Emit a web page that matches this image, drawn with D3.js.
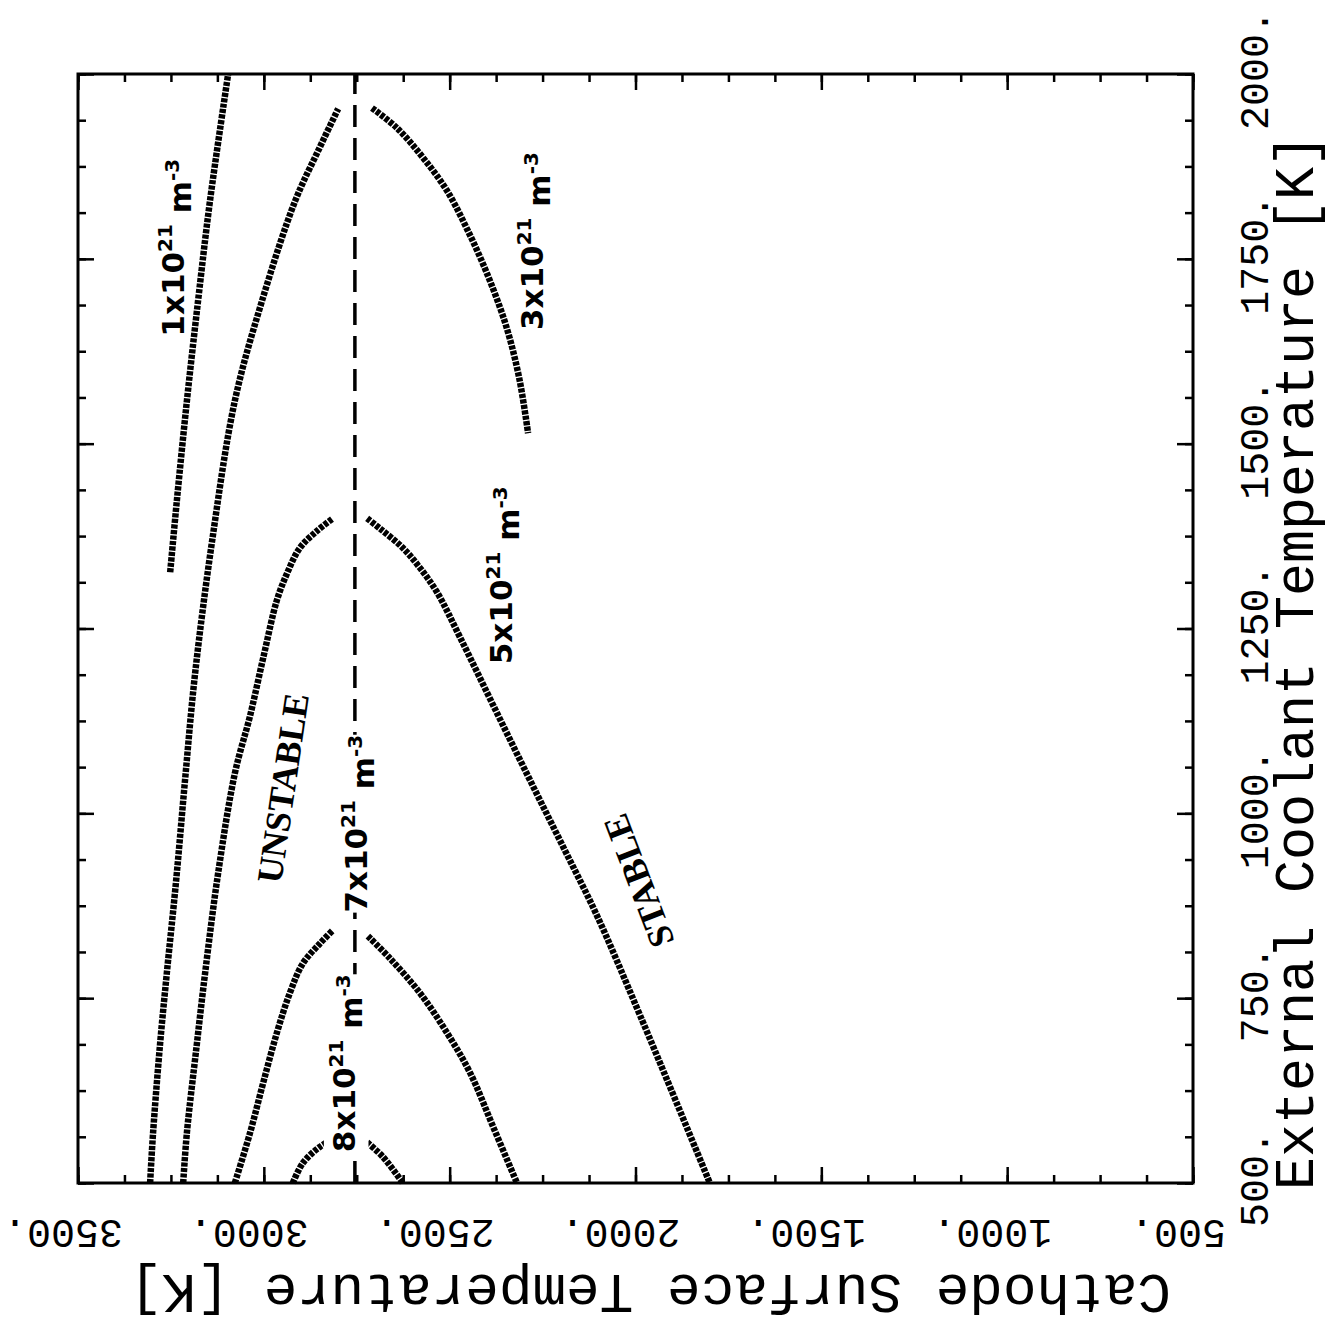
<!DOCTYPE html>
<html>
<head>
<meta charset="utf-8">
<script src="https://cdn.jsdelivr.net/npm/d3@7"></script>
<style>
  body { margin: 0; background: #fff; }
  svg { display: block; }
</style>
</head>
<body>
<script>
// axis ticks
var coolantTicks = [500, 750, 1000, 1250, 1500, 1750, 2000];
var cathodeTicks = [500, 1000, 1500, 2000, 2500, 3000, 3500];

// curves, each point is [coolant K, cathode K]
var n1e21Unstable = [[1326, 3252], [1423, 3234], [1558, 3207], [1693, 3177], [1828, 3145], [2000, 3096]];
var n3e21Unstable = [[500, 3306], [568, 3298], [689, 3279], [784, 3261], [909, 3236], [1045, 3212],
    [1189, 3185], [1369, 3139], [1558, 3078], [1693, 3005], [1828, 2916], [1896, 2854], [1953, 2800]];
var n3e21Stable = [[1954, 2709], [1927, 2642], [1887, 2572], [1842, 2507], [1788, 2451], [1727, 2397],
    [1659, 2348], [1589, 2313], [1514, 2289]];
var n5e21Unstable = [[500, 3217], [568, 3207], [689, 3180], [784, 3158], [919, 3123], [1054, 3078],
    [1132, 3037], [1214, 3000], [1288, 2965], [1324, 2938], [1359, 2903], [1382, 2857], [1399, 2814]];
var n5e21Stable = [[1399, 2722], [1385, 2687], [1359, 2626], [1332, 2580], [1299, 2534], [1238, 2472],
    [1136, 2373], [1045, 2284], [955, 2195], [862, 2104], [727, 1988], [500, 1800]];
var n7e21Unstable = [[500, 3078], [568, 3037], [635, 3002], [703, 2965], [757, 2930], [797, 2895],
    [824, 2849], [842, 2814]];
var n7e21Stable = [[834, 2720], [804, 2661], [757, 2580], [703, 2507], [649, 2445], [576, 2383], [500, 2319]];
var n8e21Unstable = [[500, 2922], [527, 2895], [549, 2849], [562, 2803]];
var n8e21Stable = [[555, 2722], [535, 2679], [500, 2626]];
var turningLine = [[500, 2755], [2000, 2755]];

var allCurves = [n1e21Unstable, n3e21Unstable, n3e21Stable, n5e21Unstable, n5e21Stable,
    n7e21Unstable, n7e21Stable, n8e21Unstable, n8e21Stable];

// hand written density labels: [coolant, cathode, mantissa]
var densityLabels = [[1765, 3215, '1'], [1774, 2249, '3'], [1322, 2332, '5'], [986, 2722, '7'], [662, 2755, '8']];
// region labels: [coolant, cathode, text, angle]
var regionLabels = [[1034, 2948, 'UNSTABLE', -81.6], [909, 1991, 'STABLE', -111]];

var LEFT = 78, RIGHT = 1193, TOP = 74, BOTTOM = 1183;

var svg = d3.select('body').append('svg')
    .attr('width', 1330)
    .attr('height', 1321);

svg.append('rect').attr('width', 1330).attr('height', 1321).attr('fill', '#fff');

var xScale = d3.scaleLinear().domain([3500, 500]).range([LEFT, RIGHT]);
var yScale = d3.scaleLinear().domain([500, 2000]).range([BOTTOM, TOP]);

var addTicks = function () {
    var xMinor = d3.range(500, 3501, 125);
    var yMinor = d3.range(500, 2001, 62.5);
    var sides = [
        {axis: d3.axisBottom(xScale), t: 'translate(0,' + BOTTOM + ')', minor: xMinor, major: cathodeTicks},
        {axis: d3.axisTop(xScale), t: 'translate(0,' + TOP + ')', minor: xMinor, major: cathodeTicks},
        {axis: d3.axisLeft(yScale), t: 'translate(' + LEFT + ',0)', minor: yMinor, major: coolantTicks},
        {axis: d3.axisRight(yScale), t: 'translate(' + RIGHT + ',0)', minor: yMinor, major: coolantTicks}
    ];
    sides.forEach(function (s) {
        [[s.minor, -8], [s.major, -16]].forEach(function (pair) {
            var g = svg.append('g')
                .attr('transform', s.t)
                .call(s.axis.tickValues(pair[0]).tickSize(pair[1]).tickSizeOuter(0).tickFormat(''));
            g.select('.domain').remove();
            g.selectAll('line').attr('stroke', '#000').attr('stroke-width', 2.5);
        });
    });

    svg.append('rect')
        .attr('x', LEFT).attr('y', TOP)
        .attr('width', RIGHT - LEFT).attr('height', BOTTOM - TOP)
        .attr('fill', 'none').attr('stroke', '#000').attr('stroke-width', 3);
};

var addAxisLabels = function () {
    var font = '"Liberation Mono", "DejaVu Sans Mono", monospace';
    svg.selectAll('.xlab')
        .data(cathodeTicks)
        .enter()
        .append('text')
        .attr('transform', function (d) {
            return 'translate(' + (xScale(d) - 15) + ',1230) rotate(180)';
        })
        .attr('text-anchor', 'middle')
        .attr('dominant-baseline', 'central')
        .style('font-family', font)
        .style('font-size', '40px')
        .text(function (d) { return d + '.'; });

    svg.selectAll('.ylab')
        .data(coolantTicks)
        .enter()
        .append('text')
        .attr('transform', function (d) {
            return 'translate(1257,' + (yScale(d) - 4) + ') rotate(-90)';
        })
        .attr('text-anchor', 'middle')
        .attr('dominant-baseline', 'central')
        .style('font-family', font)
        .style('font-size', '40px')
        .text(function (d) { return d + '.'; });

    svg.append('text')
        .attr('transform', 'translate(650,1290) rotate(180)')
        .attr('text-anchor', 'middle')
        .attr('dominant-baseline', 'central')
        .style('font-family', font)
        .style('font-size', '56px')
        .text('Cathode Surface Temperature [K]');

    // baseline near the right edge, glyphs grow to the left
    svg.append('text')
        .attr('transform', 'translate(1313,662) rotate(-90)')
        .attr('text-anchor', 'middle')
        .style('font-family', font)
        .style('font-size', '55px')
        .text('External Coolant Temperature [K]');
};

var addCurves = function () {
    var line = d3.line()
        .x(function (d) { return xScale(d[1]); })
        .y(function (d) { return yScale(d[0]); })
        .curve(d3.curveCatmullRom.alpha(0.5));

    svg.append('path')
        .datum(turningLine)
        .attr('d', line)
        .attr('fill', 'none')
        .attr('stroke', '#000')
        .attr('stroke-width', 3.5)
        .attr('stroke-dasharray', '22 11');

    svg.selectAll('.curve')
        .data(allCurves)
        .enter()
        .append('path')
        .attr('class', 'curve')
        .attr('d', line)
        .attr('fill', 'none')
        .attr('stroke', '#000')
        .attr('stroke-width', 6.5)
        .attr('stroke-dasharray', '4.2 1.3');
};

var addLabels = function () {
    var turnX = xScale(turningLine[0][1]);
    densityLabels.forEach(function (d) {
        var g = svg.append('g')
            .attr('transform', 'translate(' + xScale(d[1]) + ',' + yScale(d[0]) + ') rotate(-90)');
        var mask = g.append('rect').attr('fill', '#fff');
        var t = g.append('text')
            .attr('text-anchor', 'middle')
            .style('font-family', '"DejaVu Sans", sans-serif')
            .style('font-weight', 'bold')
            .style('font-size', '31px');
        t.append('tspan').text(d[2] + 'x10');
        t.append('tspan').attr('dy', '-0.6em').style('font-size', '20px').text('21');
        t.append('tspan').attr('dy', '0.6em').text(' m');
        t.append('tspan').attr('dy', '-0.6em').style('font-size', '20px').text('-3');
        // labels written over the dashed line hide it
        if (Math.abs(xScale(d[1]) - turnX) < 30) {
            var b = t.node().getBBox();
            mask.attr('x', b.x).attr('y', b.y).attr('width', b.width).attr('height', b.height);
        } else {
            mask.remove();
        }
    });

    regionLabels.forEach(function (d) {
        svg.append('text')
            .attr('transform', 'translate(' + xScale(d[1]) + ',' + yScale(d[0]) + ') rotate(' + d[3] + ')')
            .attr('text-anchor', 'middle')
            .attr('dominant-baseline', 'central')
            .style('font-family', '"Liberation Serif", serif')
            .style('font-weight', 'bold')
            .style('font-size', '36px')
            .text(d[2]);
    });
};

addTicks();
addCurves();
addLabels();
addAxisLabels();
</script>
</body>
</html>
